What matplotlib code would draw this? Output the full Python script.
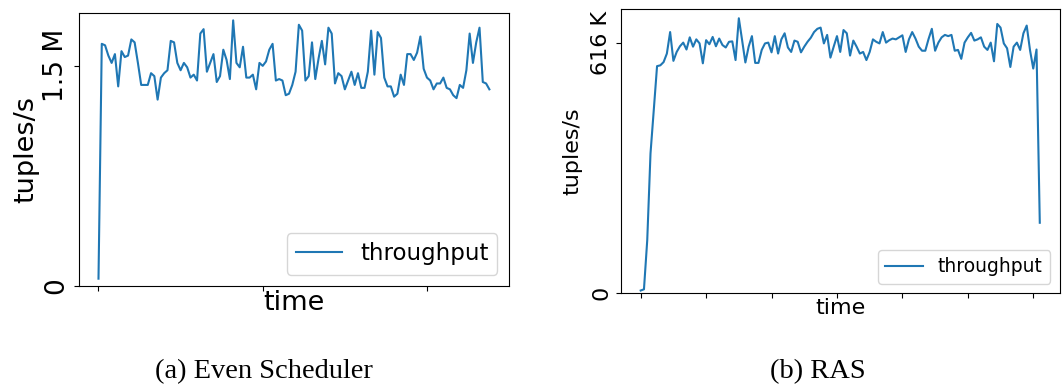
import numpy as np
import matplotlib.pyplot as plt

# (a) Even Scheduler, throughput in millions of tuples/s
even_tput = [
    0.05, 1.65, 1.64, 1.57, 1.52, 1.58, 1.36, 1.60, 1.56, 1.57,
    1.68, 1.66, 1.52, 1.37, 1.37, 1.37, 1.45, 1.43, 1.27, 1.42,
    1.45, 1.47, 1.67, 1.66, 1.52, 1.47, 1.52, 1.49, 1.42, 1.44,
    1.40, 1.72, 1.75, 1.46, 1.52, 1.58, 1.39, 1.43, 1.61, 1.54,
    1.41, 1.81, 1.52, 1.49, 1.63, 1.42, 1.42, 1.44, 1.34, 1.52,
    1.50, 1.53, 1.61, 1.65, 1.40, 1.41, 1.40, 1.30, 1.31, 1.37,
    1.46, 1.78, 1.74, 1.40, 1.43, 1.66, 1.41, 1.55, 1.67, 1.51,
    1.76, 1.72, 1.38, 1.45, 1.43, 1.34, 1.40, 1.46, 1.37, 1.45,
    1.35, 1.35, 1.46, 1.74, 1.44, 1.73, 1.69, 1.42, 1.36, 1.36,
    1.29, 1.31, 1.44, 1.37, 1.58, 1.58, 1.54, 1.59, 1.70, 1.48,
    1.42, 1.40, 1.34, 1.38, 1.38, 1.42, 1.35, 1.34, 1.30, 1.28,
    1.37, 1.35, 1.47, 1.72, 1.52, 1.66, 1.76, 1.39, 1.38, 1.34,
]

# (b) RAS, throughput in thousands of tuples/s
ras_tput = [
    7, 10, 131, 345, 452, 560, 562, 570, 591, 644,
    573, 595, 609, 618, 601, 631, 608, 626, 616, 567,
    624, 614, 632, 609, 628, 612, 606, 620, 621, 575,
    678, 624, 569, 608, 634, 568, 568, 600, 616, 618,
    594, 634, 591, 626, 641, 606, 595, 623, 620, 594,
    608, 620, 630, 644, 652, 655, 616, 637, 581, 608,
    634, 595, 649, 641, 586, 623, 608, 591, 595, 575,
    595, 626, 620, 616, 644, 618, 624, 628, 626, 631,
    636, 595, 626, 644, 628, 608, 598, 598, 627, 652,
    598, 618, 631, 637, 634, 637, 598, 600, 578, 618,
    631, 642, 623, 626, 631, 608, 600, 618, 572, 664,
    655, 616, 604, 558, 608, 618, 600, 641, 660, 600,
    554, 601, 174,
]

even_y = np.array(even_tput) * 1e6
ras_y = np.array(ras_tput) * 1e3
even_t = np.arange(len(even_y)) * 2
ras_t = np.arange(len(ras_y))

fig = plt.figure(figsize=(10.64, 3.86), dpi=100)
line_color = "#1f77b4"

# ===== (a) Even Scheduler =====
ax1 = fig.add_axes([0.0742, 0.259, 0.4041, 0.7073])
ax1.plot(even_t, even_y, color=line_color, linewidth=1.5, label="throughput")
ax1.set_ylim(0, 1.86e6)
ax1.set_yticks([0, 1.5e6])
ax1.set_yticklabels(["0", "1.5 M"], rotation=90, va="center", fontsize=19)
ax1.set_xticks([0, 100, 200])
ax1.set_xticklabels([])
ax1.set_xlabel("time", fontsize=19.5, labelpad=-4)
ax1.set_ylabel("tuples/s", fontsize=19.5, labelpad=3)
ax1.legend(loc="lower right", fontsize=16.5)

# ===== (b) RAS =====
ax2 = fig.add_axes([0.5834, 0.240, 0.4126, 0.7358])
ax2.plot(ras_t, ras_y, color=line_color, linewidth=1.5, label="throughput")
ax2.set_ylim(0, 700e3)
ax2.set_yticks([0, 616e3])
ax2.set_yticklabels(["0", "616 K"], rotation=90, va="center", fontsize=16)
ax2.set_xticks(np.arange(0, 121, 20))
ax2.set_xticklabels([])
ax2.set_xlabel("time", fontsize=16, labelpad=-4)
ax2.set_ylabel("tuples/s", fontsize=16, labelpad=6)
ax2.legend(loc="lower right", fontsize=13.5)

# sub-captions
fig.text(0.248, 0.038, "(a) Even Scheduler", ha="center", va="center",
         fontsize=20.5, family="Liberation Serif")
fig.text(0.769, 0.038, "(b) RAS", ha="center", va="center",
         fontsize=20.5, family="Liberation Serif")

fig.savefig("out.png", dpi=100)
